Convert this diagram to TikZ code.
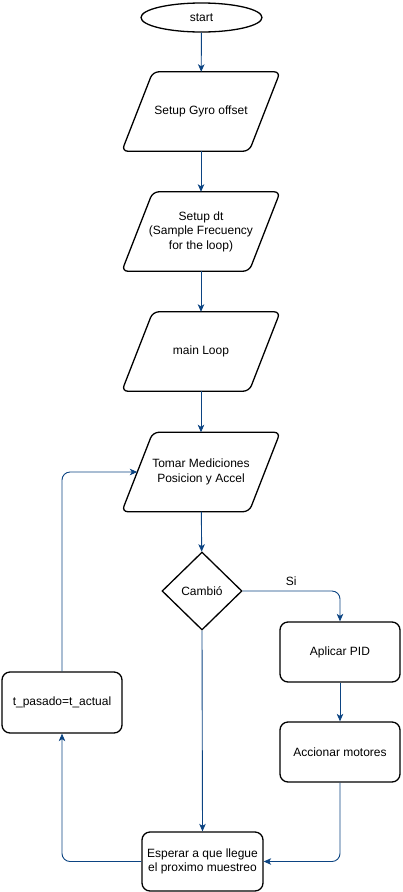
\documentclass[tikz,border=0pt]{standalone}
\usepackage{fontspec}
\setmainfont{Liberation Sans}
\usetikzlibrary{shapes.geometric,arrows.meta}
\definecolor{edgeblue}{RGB}{12,68,130}
\begin{document}
\begin{tikzpicture}[x=1pt,y=-1pt,
  every node/.style={font=\fontsize{12}{14.5}\selectfont, align=center, inner sep=0pt},
  box/.style={draw, line width=1.3pt, rounded corners=8pt, minimum width=120pt, minimum height=60pt},
  para/.style={minimum width=158pt, minimum height=79pt},
  paraline/.style={draw, line width=1.3pt, rounded corners=6pt},
  dec/.style={draw, line width=1.3pt, diamond, aspect=1.03, minimum width=80pt, minimum height=78pt},
  term/.style={draw, line width=1.3pt, ellipse, minimum width=121pt, minimum height=29pt},
  conn/.style={draw=edgeblue, line width=0.9pt, -{Stealth[width=6.5pt,length=7.5pt,inset=2pt]}, rounded corners=8pt}]
\useasboundingbox (0,0) rectangle (402,892);
\node[term] (start) at (201.5,17.5) {start};
\node[para] (p1) at (201,111.5) {Setup Gyro offset};
\node[para] (p2) at (201,231.5) {Setup dt\\(Sample Frecuency\\for the loop)};
\node[para] (p3) at (201,351.5) {main Loop};
\node[para] (p4) at (201,472) {Tomar Mediciones\\Posicion y Accel};
\foreach \n in {p1,p2,p3,p4}
  \draw[paraline] (\n.south west) -- ([xshift=31pt]\n.north west) -- (\n.north east)
    -- ([xshift=-31pt]\n.south east) -- cycle;
\coordinate (p4in) at ([xshift=15.5pt]p4.west);
\node[dec] (d) at (202,591) {Cambió};
\node[box] (ap) at (340,652) {Aplicar PID};
\node[box] (ac) at (340,752) {Accionar motores};
\node[box, minimum height=61pt] (tp) at (62,702.5) {t\_pasado=t\_actual};
\node[box, minimum width=121pt, minimum height=59pt] (es) at (202.5,861.5) {Esperar a que llegue\\el proximo muestreo};
\draw[conn] (start) -- (p1);
\draw[conn] (p1) -- (p2);
\draw[conn] (p2) -- (p3);
\draw[conn] (p3) -- (p4);
\draw[conn] (p4) -- (d);
\draw[conn] (d.east) -| node[pos=0.25, above=5pt] {Si} (ap.north);
\draw[conn] (d.south) -- (es.north);
\draw[conn] (ap) -- (ac);
\draw[conn] (ac.south) |- (es.east);
\draw[conn] (es.west) -| (tp.south);
\draw[conn] (tp.north) |- (p4in);
\end{tikzpicture}
\end{document}
